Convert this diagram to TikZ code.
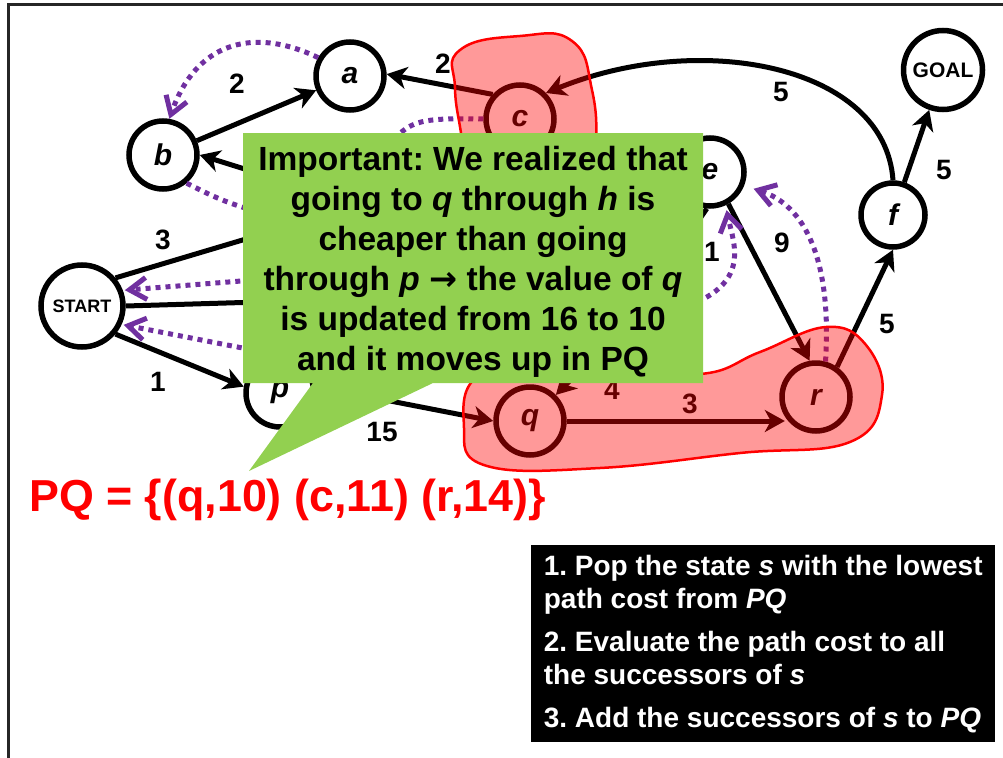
\documentclass[tikz,border=0pt]{standalone}
\usepackage{fontspec}
\setmainfont{Liberation Sans}
\newfontfamily\arrowfont{DejaVu Sans}
\usetikzlibrary{arrows.meta}
\definecolor{ptr}{HTML}{7030A0}
\definecolor{callout}{HTML}{92D050}
\frenchspacing

\begin{document}
\begin{tikzpicture}[x=1pt,y=-1pt,
  state/.style={circle,draw=black,line width=5.5pt,fill=white,inner sep=0pt,
    minimum size=68pt,font=\fontsize{30}{30}\selectfont\bfseries\itshape},
  bigstate/.style={state,minimum size=82pt,font=\fontsize{18}{18}\selectfont\bfseries},
  edge/.style={line width=5pt,-{Stealth[length=20pt,width=22pt,inset=6pt]}},
  plain/.style={line width=5pt},
  cost/.style={font=\fontsize{28}{28}\selectfont\bfseries,inner sep=0pt},
  backptr/.style={ptr,line width=5pt,dash pattern=on 5pt off 5pt,
    -{Straight Barb[length=17pt,width=22pt,line width=5pt]}},
  backline/.style={ptr,line width=5pt,dash pattern=on 5pt off 5pt},
  blob/.style={draw=red,line width=2.5pt,fill=red,fill opacity=0.4},
]
\useasboundingbox (0,0) rectangle (1003,757);
\clip (0,0) rectangle (1003,757);

% slide frame
\draw[black!85,line width=3pt] (8,800) -- (8,5) -- (1020,5);

% states
\node[state] (a) at (350,76) {a};
\node[state] (b) at (163,155) {b};
\node[state] (c) at (520,119) {c};
\node[state] (e) at (710,172) {e};
\node[state,minimum size=64pt] (f) at (893,215) {f};
\node[state] (p) at (280,393) {p};
\node[state] (q) at (530,421) {q};
\node[state] (r) at (816,397) {r};
\node[bigstate] (start) at (82,306) {START};
\node[bigstate,minimum size=79pt,font=\fontsize{21}{21}\selectfont\bfseries] (goal) at (943,70) {GOAL};

% states lying under the note
\coordinate (d) at (360,205);
\coordinate (dd) at (360,299);
\coordinate (h) at (630,320);
\coordinate (k1) at (330,274);
\coordinate (k2) at (330,365);
\coordinate (k3) at (360,240);

% transitions
\draw[edge] (b) -- (a);
\draw[edge] (c.138) -- (a.3);
\draw[edge] (f.north) .. controls (885,65) and (700,30) .. (c.45);
\draw[edge] (f) -- (goal);
\draw[edge] (r.55) -- (f.south);
\draw[edge] (e.-60) -- (r.100);
\draw[plain] (start.40) -- (d);
\draw[plain] (start.east) -- (dd);
\draw[edge] (start.-40) -- (p.170);
\draw[edge] (d) -- (b.east);
\draw[plain] (e.265) -- (h);
\draw[edge] (h) -- (q);
\draw[edge] (p.10) -- (q.west);
\draw[edge] (q.east) -- (q.east -| r.212);

% costs
\node[cost] (w1) at (237,84) {2};
\node[cost] (w2) at (443,64) {2};
\node[cost] (w3) at (781,92) {5};
\node[cost] (w4) at (944,170) {5};
\node[cost] (w5) at (887,324) {5};
\node[cost] (w6) at (782,243) {9};
\node[cost] (w7) at (712,252) {1};
\node[cost] (w8) at (163,240) {3};
\node[cost] (w9) at (158,382) {1};
\node[cost] (w10) at (382,432) {15};
\node[cost] (w11) at (612,390) {4};
\node[cost] (w12) at (690,404) {3};

% back pointers
\draw[backptr] (a.150) .. controls (250,25) and (195,45) .. (b.80);
\draw[backline] (c.180) .. controls (400,118) .. (d);
\draw[backline] (b.-50) .. controls (230,205) .. (k3);
\draw[backptr,shorten >=2pt] (k1) -- (start.21);
\draw[backptr,shorten >=2pt] (k2) -- (start.-25);
\draw[backptr,shorten >=5pt] (h) .. controls (760,300) and (735,250) .. (e.-65);
\draw[backptr,shorten >=10pt] (r.75) .. controls (832,260) and (805,205) .. (e.-22);

% frontier highlights
\draw[blob] plot[smooth cycle,tension=0.8] coordinates
  {(455,88) (460,50) (520,36) (572,41) (592,90) (596,150) (590,200) (470,200) (462,140)};
\draw[blob] plot[smooth cycle,tension=0.7] coordinates
  {(464,428) (487,466) (600,468) (740,453) (850,442) (882,395) (866,345) (826,327)
   (760,352) (700,374) (600,365) (485,372)};

% callout
\fill[callout] (243,133) -- (703,133) -- (703,383) -- (433,383) -- (249,471)
  -- (313,383) -- (243,383) -- cycle;
\node[font=\fontsize{33.5}{40}\selectfont\bfseries,align=center,inner sep=0pt] (note) at (473,262)
  {Important: We realized that\\
   going to \textit{q} through \textit{h} is\\
   cheaper than going\\
   through \textit{p} {\arrowfont\bfseries →} the value of \textit{q}\\
   is updated from 16 to 10\\
   and it moves up in PQ};

% priority queue
\node[text=red,font=\fontsize{44.8}{44.8}\selectfont\bfseries,anchor=west,inner sep=0pt] (pq) at (29,500)
  {PQ = \{(q,10) (c,11) (r,14)\}};

% algorithm steps
\node[fill=black,text=white,anchor=north west,minimum width=464pt,minimum height=197pt,
  align=left,font=\fontsize{28}{33}\selectfont\bfseries] (steps) at (531,545)
  {1. Pop the state \textit{s} with the lowest\\
   path cost from \textit{PQ}\\[10pt]
   2. Evaluate the path cost to all\\
   the successors of \textit{s}\\[10pt]
   3. Add the successors of \textit{s} to \textit{PQ}};
\end{tikzpicture}
\end{document}
